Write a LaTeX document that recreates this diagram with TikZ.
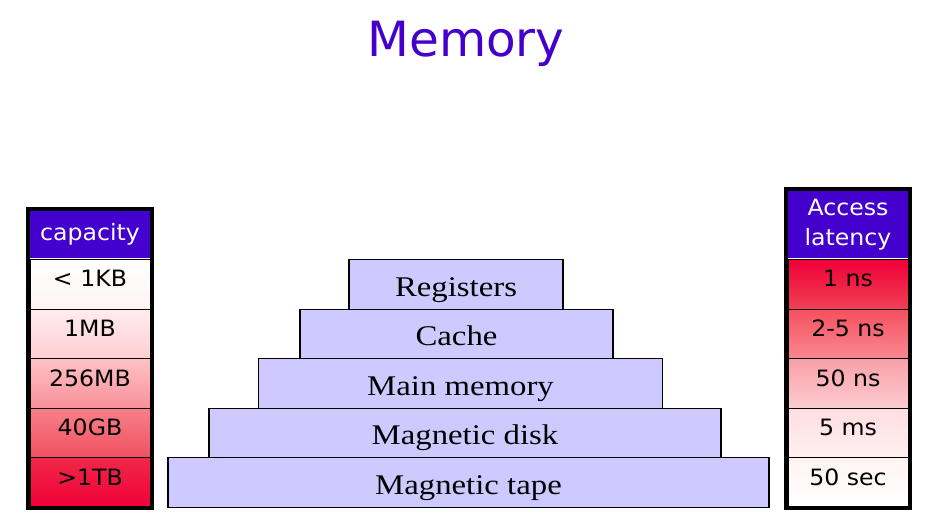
\documentclass[tikz,border=0pt]{standalone}
\usepackage{fontspec}
\setmainfont{Liberation Serif}
\newfontfamily\verdfont[FakeStretch=1.05]{DejaVu Sans}
\newfontfamily\titlefont{DejaVu Sans}
\newfontfamily\tierfont[FakeStretch=1.15]{Liberation Serif}
\definecolor{TitleBlue}{RGB}{68,0,204}
\definecolor{TierFill}{RGB}{206,202,255}
\definecolor{capA}{RGB}{255,244,244}
\definecolor{capB}{RGB}{255,236,238}
\definecolor{capC}{RGB}{255,206,210}
\definecolor{capD}{RGB}{255,194,198}
\definecolor{capE}{RGB}{248,144,152}
\definecolor{capF}{RGB}{248,128,136}
\definecolor{capG}{RGB}{240,80,96}
\definecolor{capH}{RGB}{240,40,72}
\definecolor{capI}{RGB}{240,0,56}
\definecolor{latA}{RGB}{240,64,84}
\definecolor{latB}{RGB}{246,80,96}
\definecolor{latC}{RGB}{248,136,144}
\definecolor{latD}{RGB}{248,160,168}
\definecolor{latE}{RGB}{252,204,208}
\definecolor{latF}{RGB}{255,222,226}
\definecolor{latG}{RGB}{255,240,240}
\usetikzlibrary{positioning}

\begin{document}
\begin{tikzpicture}[x=1pt, y=-1pt,
	tier/.style={draw=black, line width=1.3pt, fill=TierFill, inner sep=0pt, minimum height=49.5pt,
		text height=23.5pt, text depth=0pt, font=\tierfont\fontsize{28.5}{28.5}\selectfont},
	head/.style={fill=TitleBlue, text=white, inner sep=0pt, minimum width=120pt, align=center,
		font=\verdfont\fontsize{22.5}{30}\selectfont},
	cell/.style={draw=black, line width=0.8pt, inner sep=0pt, minimum width=120pt, minimum height=49.5pt,
		text height=16pt, text depth=11pt, font=\verdfont\fontsize{22.5}{22.5}\selectfont},
	frame/.style={draw=black, line width=4pt}]
	\useasboundingbox (0,0) rectangle (926,518);
	\node[anchor=base, text=TitleBlue, font=\titlefont\fontsize{48.5}{48.5}\selectfont] (title) at (466,57) {Memory};
	% capacity column
	\node[head, minimum height=47pt] (caphead) at (90,234.5) {capacity};
	\node[cell, top color=white, bottom color=capA] (cap1) at (90,284.5) {< 1KB};
	\node[cell, top color=capB, bottom color=capC] (cap2) at (90,334) {1MB};
	\node[cell, top color=capD, bottom color=capE] (cap3) at (90,383.5) {256MB};
	\node[cell, top color=capF, bottom color=capG] (cap4) at (90,433) {40GB};
	\node[cell, top color=capH, bottom color=capI] (cap5) at (90,482.5) {>1TB};
	\draw[frame] (28,209) rectangle (152,508);
	% pyramid
	\node[tier, minimum width=214pt] (reg) at (456,284.5) {Registers};
	\node[tier, minimum width=313pt] (cache) at (456.5,334) {Cache};
	\node[tier, minimum width=404pt] (mainmem) at (460.5,383.5) {Main memory};
	\node[tier, minimum width=512pt] (disk) at (465,433) {Magnetic disk};
	\node[tier, minimum width=601pt] (tape) at (468.5,482.5) {Magnetic tape};
	% latency column
	\node[head, minimum height=67pt] (lathead) at (848,224.5) {Access\\latency};
	\node[cell, top color=capI, bottom color=latA] (lat1) at (848,284.5) {1 ns};
	\node[cell, top color=latB, bottom color=latC] (lat2) at (848,334) {2-5 ns};
	\node[cell, top color=latD, bottom color=latE] (lat3) at (848,383.5) {50 ns};
	\node[cell, top color=latF, bottom color=latG] (lat4) at (848,433) {5 ms};
	\node[cell, top color=capA, bottom color=white] (lat5) at (848,482.5) {50 sec};
	\draw[frame] (786,189) rectangle (910,508);
\end{tikzpicture}
\end{document}
